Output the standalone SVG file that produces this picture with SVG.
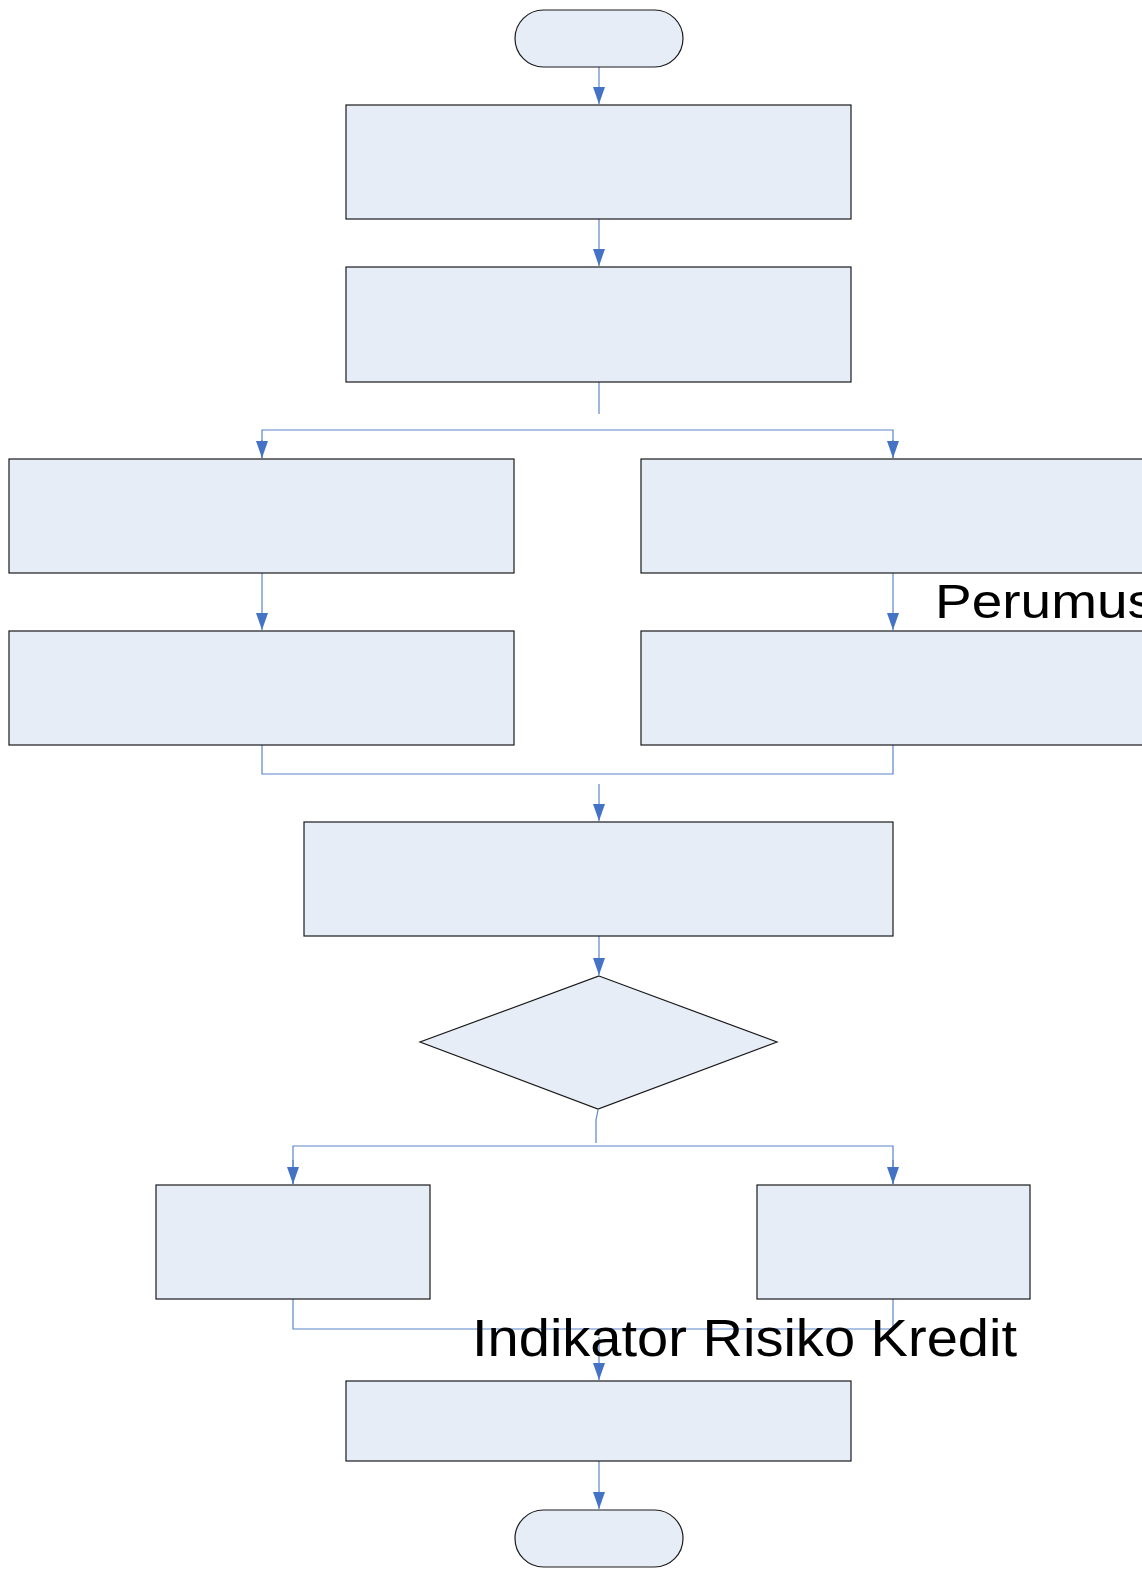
<svg xmlns="http://www.w3.org/2000/svg" width="1142" height="1571" viewBox="0 0 1142 1571">
<style>
.n{fill:#e7edf7;stroke:#1a1a1a;stroke-width:1.2}
.c{fill:none;stroke:#5b86cc;stroke-width:1.2}
.t{font-family:"Liberation Sans",Arial,sans-serif;fill:#000}
</style>
<defs>
<marker id="b" markerWidth="18" markerHeight="12" refX="17" refY="6" orient="auto" markerUnits="userSpaceOnUse" viewBox="0 0 18 12">
<path d="M0,0 L17,6 L0,12 Z" fill="#4472c4"/>
</marker>
</defs>
<rect width="1142" height="1571" fill="#fff"/>
<g id="connectors">
<line class="c" x1="599" y1="67" x2="599" y2="104" marker-end="url(#b)"/>
<line class="c" x1="599" y1="219" x2="599" y2="266" marker-end="url(#b)"/>
<line class="c" x1="599" y1="382" x2="599" y2="414"/>
<polyline class="c" points="262,458 262,430 893,430 893,458"/>
<line class="c" x1="262" y1="440" x2="262" y2="458" marker-end="url(#b)"/>
<line class="c" x1="893" y1="440" x2="893" y2="458" marker-end="url(#b)"/>
<line class="c" x1="262" y1="573" x2="262" y2="630" marker-end="url(#b)"/>
<line class="c" x1="893" y1="573" x2="893" y2="630" marker-end="url(#b)"/>
<polyline class="c" points="262,745 262,774 893,774 893,745"/>
<line class="c" x1="599" y1="784" x2="599" y2="821" marker-end="url(#b)"/>
<line class="c" x1="599" y1="936" x2="599" y2="975" marker-end="url(#b)"/>
<polyline class="c" points="598,1110 596,1120 596,1143"/>
<polyline class="c" points="293,1184 293,1146 893,1146 893,1184"/>
<line class="c" x1="293" y1="1160" x2="293" y2="1184" marker-end="url(#b)"/>
<line class="c" x1="893" y1="1160" x2="893" y2="1184" marker-end="url(#b)"/>
<polyline class="c" points="293,1299 293,1329 893,1329 893,1299"/>
<line class="c" x1="599" y1="1337" x2="599" y2="1380" marker-end="url(#b)"/>
<line class="c" x1="599" y1="1461" x2="599" y2="1509" marker-end="url(#b)"/>
</g>
<g id="start"><rect class="n" x="515" y="10" width="168" height="57" rx="28.5"/></g>
<g id="box1"><rect class="n" x="346" y="105" width="505" height="114"/></g>
<g id="box2"><rect class="n" x="346" y="267" width="505" height="115"/></g>
<g id="box3"><rect class="n" x="9" y="459" width="505" height="114"/></g>
<g id="box4"><rect class="n" x="641" y="459" width="505" height="114"/></g>
<g id="box5"><rect class="n" x="9" y="631" width="505" height="114"/></g>
<g id="box6"><rect class="n" x="641" y="631" width="505" height="114"/></g>
<g id="box7"><rect class="n" x="304" y="822" width="589" height="114"/></g>
<g id="decision"><polygon class="n" points="599,976 777,1042 598,1109 420,1042"/></g>
<g id="box8"><rect class="n" x="156" y="1185" width="274" height="114"/></g>
<g id="box9"><rect class="n" x="757" y="1185" width="273" height="114"/></g>
<g id="box10"><rect class="n" x="346" y="1381" width="505" height="80"/></g>
<g id="end"><rect class="n" x="515" y="1510" width="168" height="57" rx="28.5"/></g>
<g id="labels">
<text class="t" x="935" y="618" font-size="49" textLength="220" lengthAdjust="spacingAndGlyphs">Perumus</text>
<text class="t" x="472" y="1356" font-size="51" textLength="545" lengthAdjust="spacingAndGlyphs">Indikator Risiko Kredit</text>
</g>
</svg>
